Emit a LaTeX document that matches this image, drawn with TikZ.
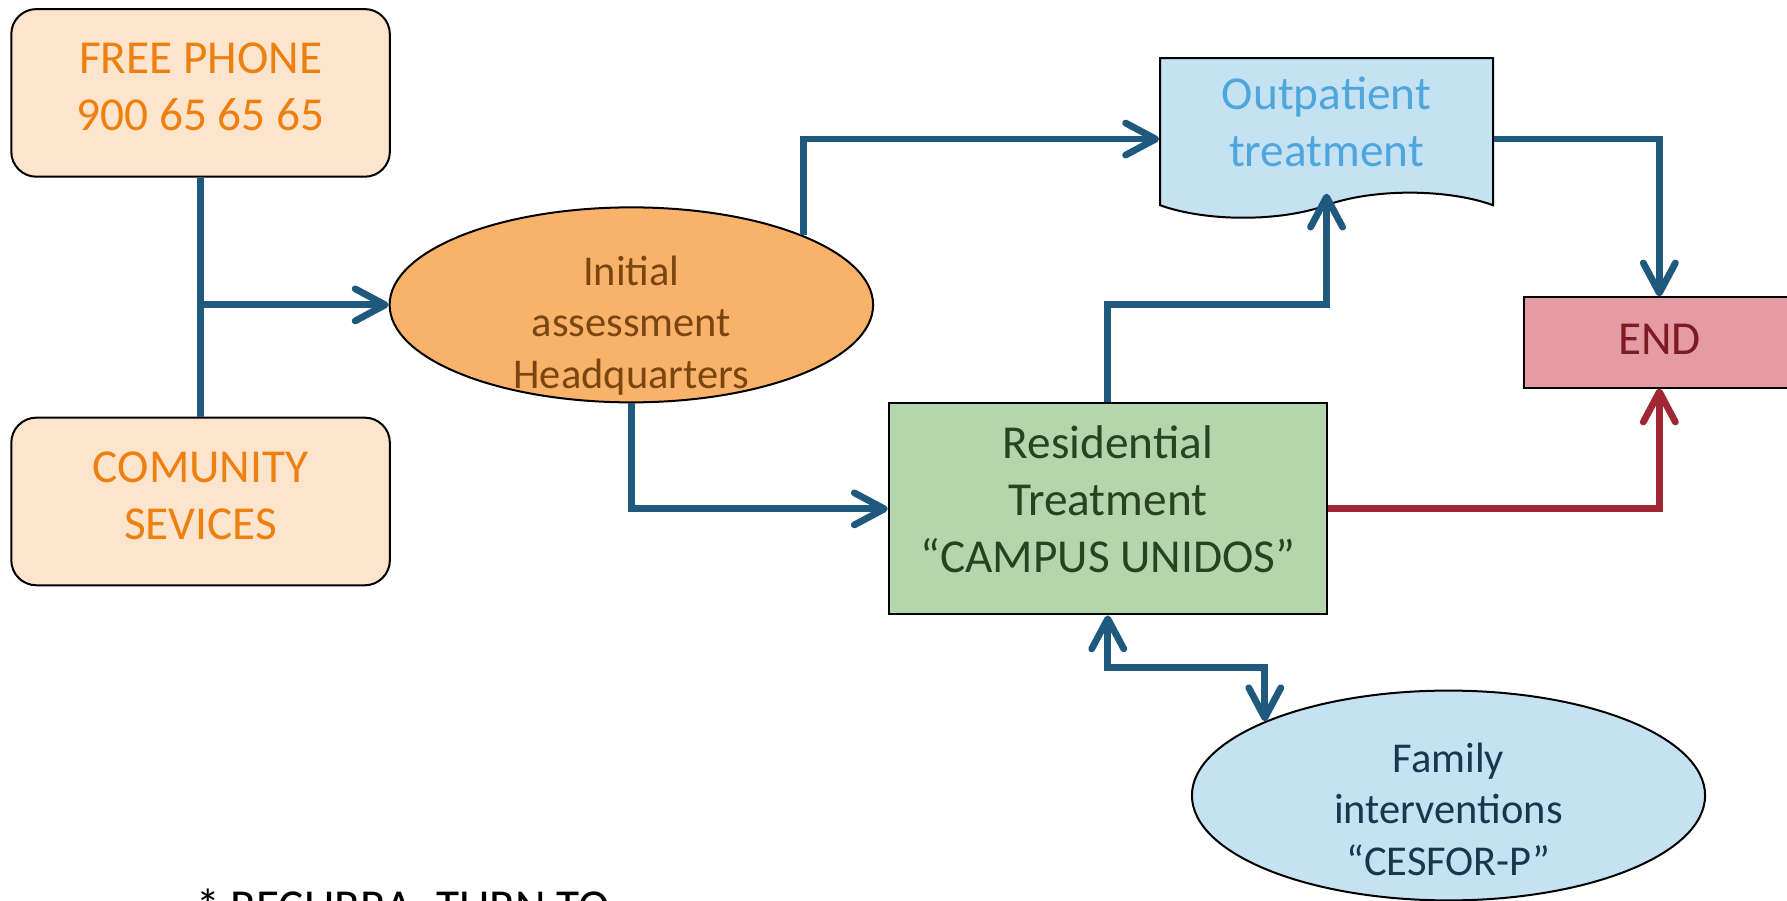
\documentclass[tikz,border=0pt]{standalone}
\usepackage{fontspec}
\setmainfont{Carlito}
\usepackage{xcolor}
\usepackage{tikz}
\usetikzlibrary{shapes,arrows.meta,positioning,calc}

\definecolor{peach}{RGB}{252,228,205}
\definecolor{entryorange}{RGB}{238,128,16}
\definecolor{assessorange}{RGB}{249,178,106}
\definecolor{assessbrown}{RGB}{122,70,16}
\definecolor{paleblue}{RGB}{197,226,242}
\definecolor{outblue}{RGB}{78,166,220}
\definecolor{famnavy}{RGB}{24,54,78}
\definecolor{endpink}{RGB}{229,155,163}
\definecolor{endred}{RGB}{125,26,36}
\definecolor{resgreen}{RGB}{180,214,172}
\definecolor{resdark}{RGB}{38,68,32}
\definecolor{linkblue}{RGB}{31,90,126}
\definecolor{linkred}{RGB}{160,40,52}

\begin{document}
\begin{tikzpicture}[
    x=0.01cm, y=-0.01cm,
    bigtext/.style={font=\fontsize{11.8}{14.2}\selectfont},
    smalltext/.style={font=\fontsize{10.6}{12.8}\selectfont},
    entry/.style={rectangle, rounded corners=0.22cm, draw=black, line width=0.5pt, fill=peach, text=entryorange, align=center, minimum width=3.32cm, minimum height=1.47cm, text depth=3pt, bigtext},
    assessment/.style={ellipse, draw=black, line width=0.5pt, fill=assessorange, minimum width=4.24cm, minimum height=1.71cm},
    document/.style={tape, tape bend top=none, tape bend bottom=in and out, tape bend height=0.22cm, draw=black, line width=0.5pt, fill=paleblue, text=outblue, align=center, minimum width=2.92cm, minimum height=1.4cm, text depth=2pt, bigtext},
    finish/.style={rectangle, draw=black, line width=0.5pt, fill=endpink, text=endred, minimum width=2.38cm, minimum height=0.79cm, text depth=1.8pt, bigtext},
    residence/.style={rectangle, draw=black, line width=0.5pt, fill=resgreen, text=resdark, align=center, minimum width=3.84cm, minimum height=1.85cm, text depth=5pt, bigtext},
    famell/.style={ellipse, draw=black, line width=0.5pt, fill=paleblue, minimum width=4.5cm, minimum height=1.84cm},
    link/.style={line width=1.7pt, draw=linkblue},
    arrow/.style={link, -{Straight Barb[length=7.5pt,width=8pt,round]}},
    twoway/.style={link, {Straight Barb[length=7.5pt,width=8pt,round]}-{Straight Barb[length=7.5pt,width=8pt,round]}},
    redarrow/.style={arrow, draw=linkred}
]
    \useasboundingbox (0,0) rectangle (1568,790);

    \node[entry] (phone) at (176,81.5) {FREE PHONE\\900 65 65 65};
    \node[entry] (comserv) at (176,440) {COMUNITY\\SEVICES};
    \node[assessment, label={[name=assesstext, smalltext, text=assessbrown, align=center, yshift=-0.18cm]center:Initial\\assessment\\Headquarters}] (assess) at (554,267.5) {};
    \node[document] (outpat) at (1164,110) {Outpatient\\treatment};
    \node[finish] (endbox) at (1456,300.5) {END};
    \node[residence] (resid) at (972,446.5) {Residential\\Treatment\\“CAMPUS UNIDOS”};
    \node[famell, label={[name=famtext, smalltext, text=famnavy, align=center, yshift=-0.12cm]center:Family\\interventions\\“CESFOR-P”}] (family) at (1271,698) {};
    \node[anchor=base west, bigtext, text=black] (note) at (160,809) {* RECURRA: TURN TO};

    \coordinate (split) at (phone.south |- assess.west);

    \draw[link] (phone) -- (comserv);
    \draw[arrow] (split) -- (assess);
    \draw[arrow] (assess.22) |- ([yshift=-0.12cm]outpat.west);
    \draw[arrow] ([yshift=-0.12cm]outpat.east) -| (endbox.north);
    \draw[arrow] (assess.south) |- (resid.west);
    \draw[arrow] (resid.north) -- ++(0,-86) -| (outpat.south);
    \draw[redarrow] (resid.east) -| (endbox.south);
    \draw[twoway] (resid.south) -- ++(0,46) -| (family.158);
\end{tikzpicture}
\end{document}
